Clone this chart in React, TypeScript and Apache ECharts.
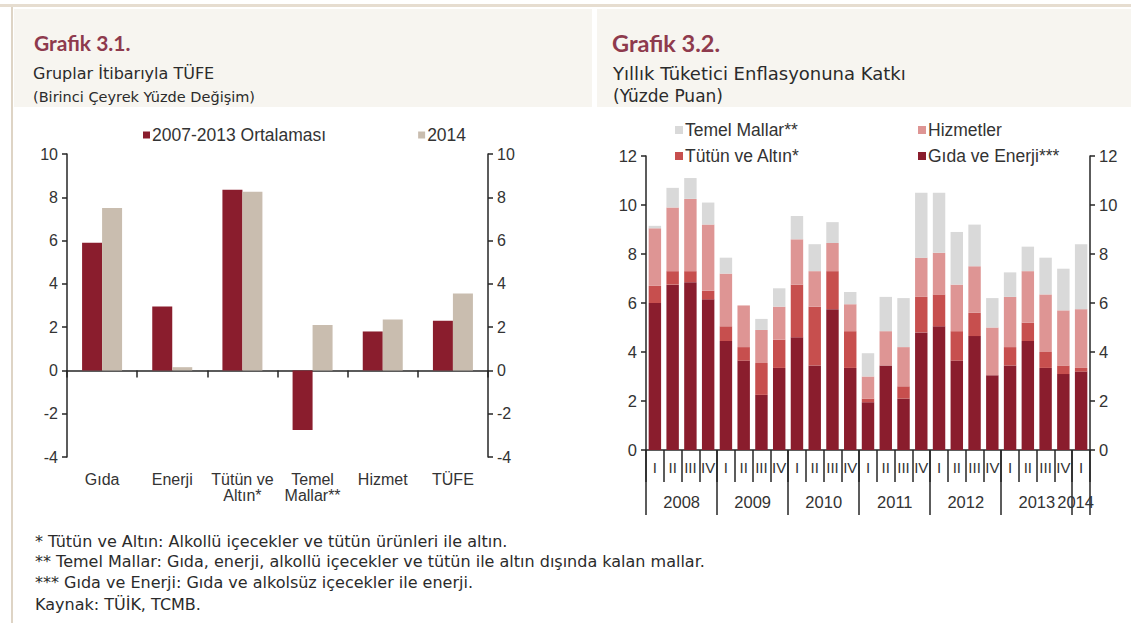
import React, { useEffect, useRef } from "react";
import * as echarts from "echarts";

// ---- Grafik 3.1 data ----
const groupCategories = ["Gıda", "Enerji", "Tütün ve\nAltın*", "Temel\nMallar**", "Hizmet", "TÜFE"];
const avg2007to2013 = [5.9, 2.95, 8.35, -2.75, 1.8, 2.3];
const value2014 = [7.5, 0.15, 8.25, 2.1, 2.35, 3.55];
const leftAxisMin = -4;
const leftAxisMax = 10;
const leftAxisInterval = 2;

// ---- Grafik 3.2 data ----
const years = ["2008", "2009", "2010", "2011", "2012", "2013", "2014"];
const quartersPerYear = [4, 4, 4, 4, 4, 4, 1];
const quarterNames = ["I", "II", "III", "IV"];
const gidaVeEnerji = [6.0, 6.75, 6.85, 6.15, 4.45, 3.65, 2.25, 3.35, 4.6, 3.45, 5.75, 3.35, 1.95, 3.45, 2.1, 4.8, 5.05, 3.65, 4.65, 3.05, 3.45, 4.45, 3.35, 3.1, 3.2];
const tutunVeAltin = [0.7, 0.55, 0.45, 0.35, 0.6, 0.55, 1.3, 1.15, 2.15, 2.4, 1.55, 1.5, 0.15, 0.0, 0.5, 1.45, 1.3, 1.2, 0.95, 0.0, 0.75, 0.75, 0.65, 0.35, 0.15];
const hizmetler = [2.35, 2.6, 2.95, 2.7, 2.15, 1.7, 1.35, 1.35, 1.85, 1.45, 1.15, 1.1, 0.9, 1.4, 1.6, 1.6, 1.7, 1.9, 1.9, 1.95, 2.05, 2.1, 2.35, 2.25, 2.4];
const temelMallar = [0.1, 0.8, 0.85, 0.9, 0.65, 0.0, 0.45, 0.75, 0.95, 1.1, 0.85, 0.5, 0.95, 1.4, 2.0, 2.65, 2.45, 2.15, 1.7, 1.2, 1.0, 1.0, 1.5, 1.7, 2.65];
const rightAxisMin = 0;
const rightAxisMax = 12;
const rightAxisInterval = 2;

const footnotes = [
  "* Tütün ve Altın: Alkollü içecekler ve tütün ürünleri ile altın.",
  "** Temel Mallar: Gıda, enerji, alkollü içecekler ve tütün ile altın dışında kalan mallar.",
  "*** Gıda ve Enerji: Gıda ve alkolsüz içecekler ile enerji.",
  "Kaynak: TÜİK, TCMB.",
];

const periods: string[] = [];
years.forEach((y, yi) => {
  for (let q = 0; q < quartersPerYear[yi]; q++) periods.push(y + "-" + quarterNames[q]);
});

const C_DARK = "#8a1d2d";
const C_BEIGE = "#c9bdaf";
const C_TUTUN = "#c74f4e";
const C_HIZMET = "#de9594";
const C_TEMEL = "#d9d9d9";
const AX = "#262626";
const TXT = "#333333";
const SANS = "Liberation Sans, Arial, sans-serif";
const TITLE_FONT = "Lato, 'Open Sans', sans-serif";
const BODY_FONT = "'DejaVu Sans', sans-serif";

export default function App() {
  const ref = useRef<HTMLDivElement>(null);
  useEffect(() => {
    if (!ref.current) return;
    const chart = echarts.init(ref.current, undefined, { renderer: "svg" });

    const yAxisCommon = (gridIndex: number, position: string, min: number, max: number, interval: number, fs: number) => ({
      type: "value",
      gridIndex,
      position,
      min,
      max,
      interval,
      axisLine: { show: true, lineStyle: { color: AX, width: 1.5 } },
      axisTick: { show: true, length: 5, lineStyle: { color: AX, width: 1.5 } },
      splitLine: { show: false },
      axisLabel: { color: TXT, fontSize: fs, fontFamily: SANS, margin: 9 },
    });

    const yearLabel = (value: string) => {
      const [y, q] = value.split("-");
      const yi = years.indexOf(y);
      if (quartersPerYear[yi] === 4 && q === "II") return "{s|" + y + "}";
      if (quartersPerYear[yi] === 1 && q === "I") return "{l|" + y + "}";
      return "";
    };

    const option: any = {
      animation: false,
      backgroundColor: "#ffffff",
      graphic: [
        { type: "rect", shape: { x: 14, y: 9, width: 578, height: 98 }, style: { fill: "#f7f5f0" }, z: -10 },
        { type: "rect", shape: { x: 597, y: 9, width: 534, height: 98 }, style: { fill: "#f7f5f0" }, z: -10 },
        { type: "rect", shape: { x: 0, y: 4, width: 1131, height: 3 }, style: { fill: "#e6ddd0" }, z: -9 },
        { type: "rect", shape: { x: 11, y: 7, width: 2, height: 616 }, style: { fill: "#ded4c5" }, z: -9 },
        { type: "text", left: 34, top: 32, style: { text: "Grafik 3.1.", fill: "#8e3a4d", font: "bold 21px " + TITLE_FONT } },
        { type: "text", left: 33, top: 65, style: { text: "Gruplar İtibarıyla TÜFE", fill: "#2b2b2b", font: "16px " + BODY_FONT } },
        { type: "text", left: 33, top: 89, style: { text: "(Birinci Çeyrek Yüzde Değişim)", fill: "#2b2b2b", font: "14.5px " + BODY_FONT } },
        { type: "text", left: 612, top: 31, style: { text: "Grafik 3.2.", fill: "#8e3a4d", font: "bold 23.5px " + TITLE_FONT } },
        { type: "text", left: 613, top: 64, style: { text: "Yıllık Tüketici Enflasyonuna Katkı", fill: "#2b2b2b", font: "18px " + BODY_FONT } },
        { type: "text", left: 613, top: 87, style: { text: "(Yüzde Puan)", fill: "#2b2b2b", font: "17px " + BODY_FONT } },
        ...footnotes.map((t, i) => ({
          type: "text",
          left: 35,
          top: 533 + i * 20.5 + (i === 3 ? 2 : 0),
          style: { text: t, fill: "#2b2b2b", font: "16px " + BODY_FONT },
        })),
      ],
      legend: [
        {
          left: 138,
          top: 121,
          itemWidth: 7,
          itemHeight: 7,
          itemGap: 92,
          icon: "rect",
          textStyle: { color: TXT, fontSize: 17.5, fontFamily: SANS, padding: [0, 0, 0, -3] },
          data: ["2007-2013 Ortalaması", "2014"],
        },
        {
          left: 670,
          top: 116,
          orient: "vertical",
          itemWidth: 8,
          itemHeight: 8,
          itemGap: 8,
          icon: "rect",
          textStyle: { color: TXT, fontSize: 17.5, fontFamily: SANS, padding: [0, 0, 0, -3] },
          data: ["Temel Mallar**", "Tütün ve Altın*"],
        },
        {
          left: 913,
          top: 116,
          orient: "vertical",
          itemWidth: 8,
          itemHeight: 8,
          itemGap: 8,
          icon: "rect",
          textStyle: { color: TXT, fontSize: 17.5, fontFamily: SANS, padding: [0, 0, 0, -3] },
          data: ["Hizmetler", "Gıda ve Enerji***"],
        },
      ],
      grid: [
        { left: 67, right: 1131 - 488, top: 154, bottom: 623 - 457 },
        { left: 646, right: 1131 - 1090, top: 156, bottom: 623 - 450 },
      ],
      xAxis: [
        {
          type: "category",
          gridIndex: 0,
          data: groupCategories,
          position: "bottom",
          axisLine: { show: true, onZero: true, lineStyle: { color: AX, width: 1.5 } },
          axisTick: { show: true, length: 7, lineStyle: { color: AX, width: 1.5 } },
          axisLabel: { show: false },
        },
        {
          type: "category",
          gridIndex: 0,
          data: groupCategories,
          position: "bottom",
          axisLine: { show: false, onZero: false },
          axisTick: { show: false },
          axisLabel: { color: TXT, fontSize: 16, fontFamily: SANS, margin: 14, lineHeight: 16, interval: 0 },
        },
        {
          type: "category",
          gridIndex: 1,
          data: periods,
          position: "bottom",
          axisLine: { show: true, lineStyle: { color: AX, width: 1.5 } },
          axisTick: { show: true, interval: 0, length: 32, lineStyle: { color: AX, width: 1.5 } },
          axisLabel: {
            interval: 0,
            color: TXT,
            fontSize: 15,
            fontFamily: SANS,
            margin: 10,
            formatter: (v: string) => v.split("-")[1],
          },
        },
        {
          type: "category",
          gridIndex: 1,
          data: periods,
          position: "bottom",
          axisLine: { show: false },
          axisTick: {
            show: true,
            interval: (i: number, v: string) => v.split("-")[1] === "I",
            length: 65,
            lineStyle: { color: AX, width: 1.5 },
          },
          axisLabel: {
            interval: 0,
            color: TXT,
            fontSize: 16.5,
            fontFamily: SANS,
            margin: 43,
            formatter: yearLabel,
            rich: {
              s: { fontSize: 16.5, fontFamily: SANS, color: TXT, padding: [0, 0, 0, 18] },
              l: { fontSize: 16.5, fontFamily: SANS, color: TXT, padding: [0, 11, 0, 0] },
            },
          },
        },
      ],
      yAxis: [
        yAxisCommon(0, "left", leftAxisMin, leftAxisMax, leftAxisInterval, 16),
        yAxisCommon(0, "right", leftAxisMin, leftAxisMax, leftAxisInterval, 16),
        yAxisCommon(1, "left", rightAxisMin, rightAxisMax, rightAxisInterval, 16.5),
        yAxisCommon(1, "right", rightAxisMin, rightAxisMax, rightAxisInterval, 16.5),
      ],
      series: [
        {
          name: "2007-2013 Ortalaması",
          type: "bar",
          xAxisIndex: 0,
          yAxisIndex: 0,
          data: avg2007to2013,
          itemStyle: { color: C_DARK },
          barGap: "0%",
          barCategoryGap: "43%",
        },
        {
          name: "2014",
          type: "bar",
          xAxisIndex: 0,
          yAxisIndex: 0,
          data: value2014,
          itemStyle: { color: C_BEIGE },
          barGap: "0%",
          barCategoryGap: "43%",
        },
        {
          name: "Gıda ve Enerji***",
          type: "bar",
          stack: "katki",
          xAxisIndex: 2,
          yAxisIndex: 2,
          data: gidaVeEnerji,
          itemStyle: { color: C_DARK },
          barCategoryGap: "30%",
        },
        {
          name: "Tütün ve Altın*",
          type: "bar",
          stack: "katki",
          xAxisIndex: 2,
          yAxisIndex: 2,
          data: tutunVeAltin,
          itemStyle: { color: C_TUTUN },
          barCategoryGap: "30%",
        },
        {
          name: "Hizmetler",
          type: "bar",
          stack: "katki",
          xAxisIndex: 2,
          yAxisIndex: 2,
          data: hizmetler,
          itemStyle: { color: C_HIZMET },
          barCategoryGap: "30%",
        },
        {
          name: "Temel Mallar**",
          type: "bar",
          stack: "katki",
          xAxisIndex: 2,
          yAxisIndex: 2,
          data: temelMallar,
          itemStyle: { color: C_TEMEL },
          barCategoryGap: "30%",
        },
      ],
    };
    chart.setOption(option);
    return () => chart.dispose();
  }, []);
  return <div ref={ref} style={{ position: "absolute", left: 0, top: 0, width: 1131, height: 623 }} />;
}
